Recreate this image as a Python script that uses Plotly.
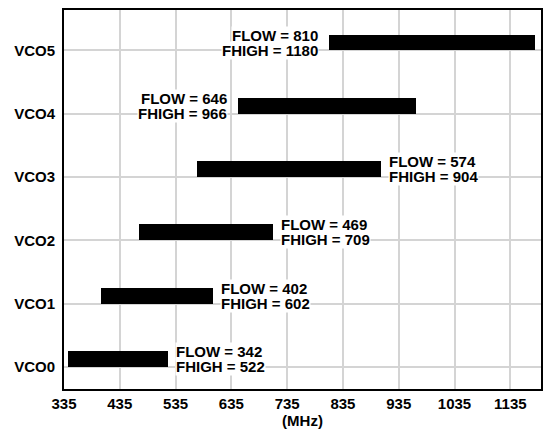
import plotly.graph_objects as go

vco_names = ["VCO0", "VCO1", "VCO2", "VCO3", "VCO4", "VCO5"]
flow = [342, 402, 469, 574, 646, 810]
fhigh = [522, 602, 709, 904, 966, 1180]
x_ticks = [335, 435, 535, 635, 735, 835, 935, 1035, 1135]
label_side = ["right", "right", "right", "right", "left", "left"]

FONT = "Liberation Sans, Arial, sans-serif"
BOLD = dict(family=FONT, size=15, color="black", weight="bold")

fig = go.Figure()

fig.add_trace(
    go.Bar(
        y=list(range(len(vco_names))),
        x=[h - l for l, h in zip(flow, fhigh)],
        base=flow,
        orientation="h",
        width=0.25,
        offset=0,
        marker=dict(color="black", line=dict(width=0)),
        showlegend=False,
        hoverinfo="skip",
    )
)

# FLOW / FHIGH labels beside each bar, one annotation per line
for i, (lo, hi) in enumerate(zip(flow, fhigh)):
    if label_side[i] == "left":
        xpos, anchor, shift = lo, "right", -10
    else:
        xpos, anchor, shift = hi, "left", 7
    for txt, ys in ((f"FLOW = {lo}", 7.5), (f"FHIGH = {hi}", -7.5)):
        fig.add_annotation(
            x=xpos,
            y=i + 0.125,
            text=txt,
            showarrow=False,
            xanchor=anchor,
            yanchor="middle",
            xshift=shift,
            yshift=ys,
            align=anchor,
            bgcolor="white",
            borderpad=0,
            font=BOLD,
        )

fig.update_layout(
    width=550,
    height=433,
    margin=dict(l=64, r=9, t=10, b=44),
    plot_bgcolor="white",
    paper_bgcolor="white",
    bargap=0,
    font=dict(family=FONT, size=15, color="black"),
)

fig.update_xaxes(
    range=[335, 1190],
    tickvals=x_ticks,
    ticktext=[str(t) for t in x_ticks],
    tickfont=BOLD,
    showgrid=True,
    gridcolor="#d4d4d4",
    gridwidth=1.5,
    showline=True,
    linecolor="black",
    linewidth=2,
    mirror=True,
    ticks="",
    zeroline=False,
    automargin=False,
    title=dict(text="(MHz)", font=BOLD, standoff=2),
)

fig.update_yaxes(
    range=[-0.35, 5.64],
    tickvals=list(range(len(vco_names))),
    ticktext=vco_names,
    tickfont=BOLD,
    showgrid=True,
    gridcolor="#d4d4d4",
    gridwidth=1.5,
    showline=True,
    linecolor="black",
    linewidth=2,
    mirror=True,
    ticks="",
    ticklabelstandoff=4,
    zeroline=False,
    automargin=False,
)

fig.write_html(
    "out.html",
    config={"displayModeBar": False},
    post_script="document.body.style.margin='0';",
)
